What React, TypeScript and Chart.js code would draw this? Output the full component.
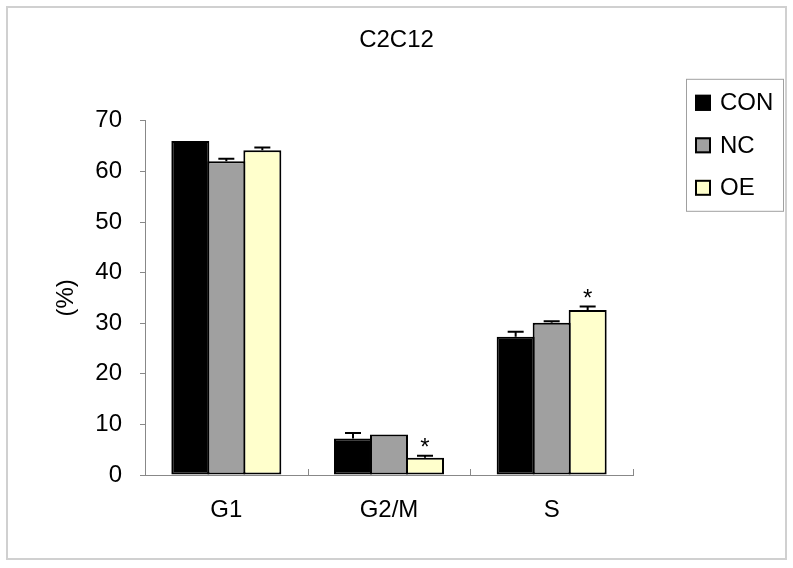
import React, { useEffect, useRef } from "react";
import { Chart, registerables } from "chart.js";

Chart.register(...registerables);

const chartTitle = "C2C12";
const yAxisTitle = "(%)";
const categories = ["G1", "G2/M", "S"];
const seriesNames = ["CON", "NC", "OE"];
const seriesColors = ["#000000", "#a0a0a0", "#ffffcc"];
const conValues = [66.0, 7.2, 27.3];
const ncValues = [62.0, 8.0, 30.1];
const oeValues = [64.2, 3.4, 32.6];
const conErrors = [0, 1.1, 1.0];
const ncErrors = [0.5, 0, 0.3];
const oeErrors = [0.5, 0.4, 0.7];
const conSignificant = [false, false, false];
const ncSignificant = [false, false, false];
const oeSignificant = [false, true, true];
const yMin = 0;
const yMax = 70;
const yStep = 10;

const FONT = "'Liberation Sans', Arial, sans-serif";

const framePlugin = {
  id: "frame",
  beforeDraw(chart: any) {
    const { ctx, width, height } = chart;
    ctx.save();
    ctx.fillStyle = "#ffffff";
    ctx.fillRect(0, 0, width, height);
    ctx.strokeStyle = "#d0d0d0";
    ctx.lineWidth = 2;
    ctx.strokeRect(7, 7, width - 14, height - 16);
    ctx.restore();
  },
};

const errorBarPlugin = {
  id: "errorBars",
  afterDatasetsDraw(chart: any) {
    const { ctx } = chart;
    const yScale = chart.scales.y;
    ctx.save();
    chart.data.datasets.forEach((ds: any, di: number) => {
      const meta = chart.getDatasetMeta(di);
      meta.data.forEach((el: any, j: number) => {
        const v = ds.data[j];
        const e = ds.errors ? ds.errors[j] : 0;
        const yv = yScale.getPixelForValue(v);
        const ye = yScale.getPixelForValue(v + e);
        if (e > 0) {
          ctx.strokeStyle = "#000";
          ctx.lineWidth = 2;
          ctx.beginPath();
          ctx.moveTo(el.x, yv);
          ctx.lineTo(el.x, ye);
          ctx.moveTo(el.x - 8, ye);
          ctx.lineTo(el.x + 8, ye);
          ctx.stroke();
        }
        if (ds.significant && ds.significant[j]) {
          ctx.fillStyle = "#000";
          ctx.font = `24px ${FONT}`;
          ctx.textAlign = "center";
          ctx.textBaseline = "alphabetic";
          ctx.fillText("*", el.x, ye - 1);
        }
      });
    });
    ctx.restore();
  },
};

const axisTickPlugin = {
  id: "innerTicks",
  afterDraw(chart: any) {
    const { ctx } = chart;
    const xScale = chart.scales.x;
    const n = chart.data.labels.length;
    ctx.save();
    ctx.strokeStyle = "#888888";
    ctx.lineWidth = 1;
    ctx.beginPath();
    for (let i = 0; i <= n; i++) {
      const x = Math.round(xScale.left + (i * (xScale.right - xScale.left)) / n) + 0.5;
      ctx.moveTo(x, xScale.top);
      ctx.lineTo(x, xScale.top - 6);
    }
    ctx.stroke();
    ctx.restore();
  },
};

const boxLegendPlugin = {
  id: "boxLegend",
  afterDraw(chart: any) {
    const { ctx, chartArea } = chart;
    const left = chartArea.right + 53;
    const top = chartArea.top - 42;
    const w = 97;
    const h = 132;
    ctx.save();
    ctx.strokeStyle = "#a0a0a0";
    ctx.lineWidth = 1;
    ctx.strokeRect(left + 0.5, top + 0.5, w, h);
    chart.data.datasets.forEach((ds: any, i: number) => {
      const cy = top + 24 + i * 42.5;
      const mx = left + 9;
      ctx.fillStyle = ds.backgroundColor;
      ctx.fillRect(mx, cy - 8, 16, 16);
      ctx.strokeStyle = "#000";
      ctx.lineWidth = 2;
      ctx.strokeRect(mx + 1, cy - 7, 14, 14);
      ctx.fillStyle = "#000";
      ctx.font = `24px ${FONT}`;
      ctx.textAlign = "left";
      ctx.textBaseline = "middle";
      ctx.fillText(ds.label, left + 34, cy + 1);
    });
    ctx.restore();
  },
};

export default function App() {
  const canvasRef = useRef<HTMLCanvasElement | null>(null);

  useEffect(() => {
    if (!canvasRef.current) return;
    Chart.defaults.font.family = FONT;
    const values = [conValues, ncValues, oeValues];
    const errors = [conErrors, ncErrors, oeErrors];
    const sig = [conSignificant, ncSignificant, oeSignificant];
    const chart = new Chart(canvasRef.current, {
      type: "bar",
      data: {
        labels: categories,
        datasets: seriesNames.map((name, i) => ({
          label: name,
          data: values[i],
          errors: errors[i],
          significant: sig[i],
          backgroundColor: seriesColors[i],
          borderColor: "#000000",
          borderWidth: 2,
          borderSkipped: false,
          yAxisID: "y",
          categoryPercentage: 0.664,
          barPercentage: 1.0556,
        })) as any,
      },
      options: {
        animation: false,
        responsive: false,
        layout: { padding: 0 },
        plugins: {
          legend: { display: false },
          tooltip: { enabled: false },
          title: {
            display: true,
            text: chartTitle,
            color: "#000",
            font: { size: 24, weight: "normal" as any },
            padding: { top: 26, bottom: 66 },
          },
        },
        scales: {
          x: {
            type: "category",
            grid: { display: false, drawTicks: false },
            border: { display: true, color: "#888888", width: 1 },
            ticks: { color: "#000", font: { size: 24 }, padding: 21 },
            afterFit: (s: any) => {
              s.height = 93;
            },
          },
          y: {
            type: "linear",
            position: "left",
            min: yMin,
            max: yMax,
            ticks: { stepSize: yStep, color: "#000", font: { size: 24 }, padding: 18 },
            grid: { drawOnChartArea: false, drawTicks: true, tickLength: 5, color: "#888888" },
            border: { display: true, color: "#888888", width: 1 },
            title: {
              display: true,
              text: yAxisTitle,
              color: "#000",
              font: { size: 24 },
              padding: { top: 52, bottom: 0 },
            },
            afterFit: (s: any) => {
              s.width = 145;
            },
          },
          yRight: {
            type: "linear",
            position: "right",
            display: true,
            grid: { display: false, drawTicks: false },
            border: { display: false },
            ticks: { display: false },
            afterFit: (s: any) => {
              s.width = 160;
            },
          },
        },
      } as any,
      plugins: [framePlugin, errorBarPlugin, axisTickPlugin, boxLegendPlugin],
    });
    return () => chart.destroy();
  }, []);

  return (
    <div style={{ position: "absolute", left: 0, top: 0, width: 793, height: 568 }}>
      <canvas ref={canvasRef} width={793} height={568} />
    </div>
  );
}
